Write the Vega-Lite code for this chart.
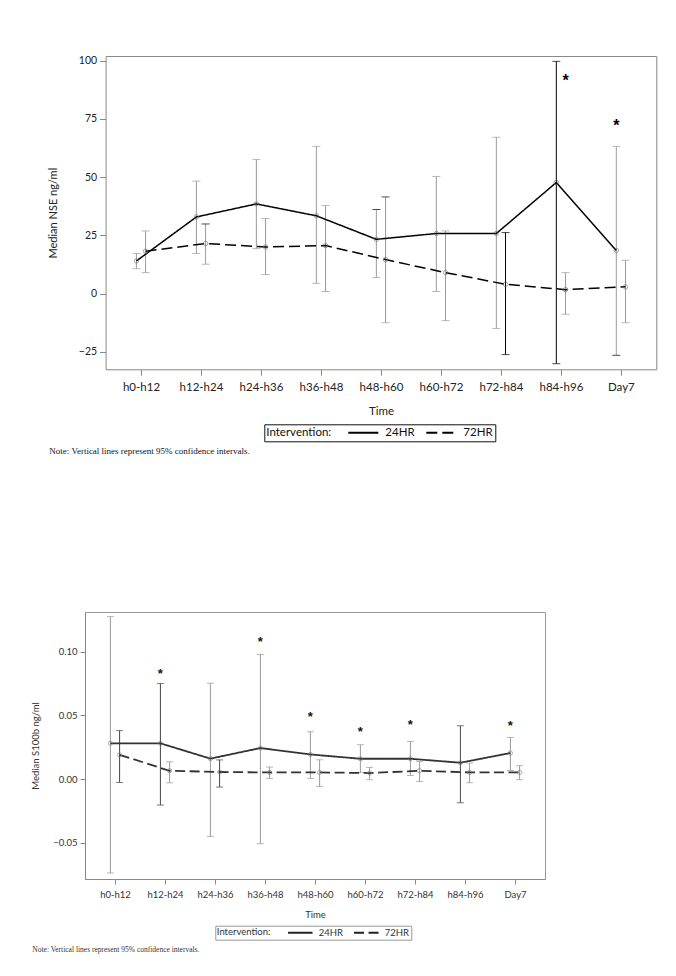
{
"$schema": "https://vega.github.io/schema/vega-lite/v6.json",
"background": "white",
"padding": {"left": 30, "top": 55, "right": 5, "bottom": 5},
"config": {
  "view": {"stroke": null},
  "font": "Lato",
  "axis": {"grid": false, "domainColor": "#888", "tickColor": "#888", "labelColor": "#222", "titleColor": "#222", "titleFontWeight": "normal"},
  "legend": {"symbolType": "stroke", "symbolStrokeColor": "black", "titleFontWeight": "normal", "titleColor": "#111", "labelColor": "#111"}
},
"datasets": {
  "nse": [
    {"time":"h0-h12","group":"24HR","median":14.0,"lo":10.7,"hi":17.2},
    {"time":"h12-h24","group":"24HR","median":32.9,"lo":17.2,"hi":48.3},
    {"time":"h24-h36","group":"24HR","median":38.5,"lo":19.3,"hi":57.6},
    {"time":"h36-h48","group":"24HR","median":33.4,"lo":4.4,"hi":63.2},
    {"time":"h48-h60","group":"24HR","median":23.3,"lo":6.9,"hi":36.1},
    {"time":"h60-h72","group":"24HR","median":25.8,"lo":0.9,"hi":50.3},
    {"time":"h72-h84","group":"24HR","median":25.8,"lo":-15.0,"hi":67.1},
    {"time":"h84-h96","group":"24HR","median":47.7,"lo":-30.1,"hi":99.7},
    {"time":"Day7","group":"24HR","median":18.5,"lo":-26.5,"hi":63.2},
    {"time":"h0-h12","group":"72HR","median":18.2,"lo":9.0,"hi":26.9},
    {"time":"h12-h24","group":"72HR","median":21.5,"lo":12.6,"hi":29.9},
    {"time":"h24-h36","group":"72HR","median":20.0,"lo":8.2,"hi":32.2},
    {"time":"h36-h48","group":"72HR","median":20.6,"lo":0.9,"hi":37.8},
    {"time":"h48-h60","group":"72HR","median":14.6,"lo":-12.5,"hi":41.5},
    {"time":"h60-h72","group":"72HR","median":9.0,"lo":-11.6,"hi":26.9},
    {"time":"h72-h84","group":"72HR","median":4.0,"lo":-26.2,"hi":26.2},
    {"time":"h84-h96","group":"72HR","median":1.7,"lo":-8.9,"hi":9.0},
    {"time":"Day7","group":"72HR","median":2.9,"lo":-12.5,"hi":14.3}
  ],
  "nse_star": [
    {"time":"h84-h96","group":"72HR","y":92.9},
    {"time":"Day7","group":"24HR","y":73.8}
  ],
  "s100": [
    {"time":"h0-h12","group":"24HR","median":0.028,"lo":-0.0737,"hi":0.1274},
    {"time":"h12-h24","group":"24HR","median":0.028,"lo":-0.0204,"hi":0.0749},
    {"time":"h24-h36","group":"24HR","median":0.016,"lo":-0.045,"hi":0.0752},
    {"time":"h36-h48","group":"24HR","median":0.0243,"lo":-0.0507,"hi":0.0977},
    {"time":"h48-h60","group":"24HR","median":0.0193,"lo":0.0005,"hi":0.0371},
    {"time":"h60-h72","group":"24HR","median":0.0159,"lo":0.0052,"hi":0.0269},
    {"time":"h72-h84","group":"24HR","median":0.0159,"lo":0.0028,"hi":0.0295},
    {"time":"h84-h96","group":"24HR","median":0.0128,"lo":-0.0186,"hi":0.0418},
    {"time":"Day7","group":"24HR","median":0.0204,"lo":0.0067,"hi":0.0326},
    {"time":"h0-h12","group":"72HR","median":0.019,"lo":-0.0027,"hi":0.038},
    {"time":"h12-h24","group":"72HR","median":0.0065,"lo":-0.003,"hi":0.0135},
    {"time":"h24-h36","group":"72HR","median":0.0055,"lo":-0.0063,"hi":0.015},
    {"time":"h36-h48","group":"72HR","median":0.0052,"lo":0.0005,"hi":0.0094},
    {"time":"h48-h60","group":"72HR","median":0.0052,"lo":-0.0058,"hi":0.0151},
    {"time":"h60-h72","group":"72HR","median":0.0047,"lo":-0.0005,"hi":0.0091},
    {"time":"h72-h84","group":"72HR","median":0.0065,"lo":-0.0019,"hi":0.0138},
    {"time":"h84-h96","group":"72HR","median":0.0052,"lo":-0.0029,"hi":0.0125},
    {"time":"Day7","group":"72HR","median":0.0052,"lo":-0.0005,"hi":0.0104}
  ],
  "s100_star": [
    {"time":"h12-h24","group":"24HR","y":0.0851},
    {"time":"h36-h48","group":"24HR","y":0.110},
    {"time":"h48-h60","group":"24HR","y":0.0512},
    {"time":"h60-h72","group":"24HR","y":0.0394},
    {"time":"h72-h84","group":"24HR","y":0.0451},
    {"time":"Day7","group":"24HR","y":0.0438}
  ]
},
"columns": 1,
"spacing": 155,
"resolve": {"scale": {"strokeDash": "independent"}, "legend": {"strokeDash": "independent"}},
"concat": [
 {
  "width": 571.3,
  "height": 313.3,
  "title": {"text": "Note: Vertical lines represent 95% confidence intervals.", "orient": "bottom", "anchor": "start", "frame": "group", "dx": -35.7, "offset": 5, "font": "Liberation Serif", "fontSize": 9, "fontWeight": "normal", "color": "#111"},
  "resolve": {"axis": {"x": "independent", "y": "independent"}},
  "layer": [
   {
    "data": {"name": "nse"},
    "mark": {"type": "rule", "strokeWidth": 1},
    "encoding": {
      "x": {"field": "time", "type": "ordinal", "scale": {"type": "point", "domain": ["h0-h12","h12-h24","h24-h36","h36-h48","h48-h60","h60-h72","h72-h84","h84-h96","Day7"], "padding": 0.59, "range": [20.6, 571.3]}, "axis": null},
      "xOffset": {"field": "group", "type": "nominal", "scale": {"type": "point", "domain": ["24HR","72HR"], "range": [-4.6, 4.6], "padding": 0}},
      "y": {"field": "lo", "type": "quantitative", "scale": {"domain": [-32.5, 102], "nice": false, "zero": false}, "axis": null},
      "y2": {"field": "hi"},
      "color": {"condition": {"test": "(datum.time=='h84-h96' && datum.group=='24HR') || (datum.time=='h72-h84' && datum.group=='72HR')", "value": "#000"}, "value": "#9a9a9a"}
    }
   },
   {
    "data": {"name": "nse"},
    "mark": {"type": "tick", "size": 8, "thickness": 1},
    "encoding": {
      "x": {"field": "time", "type": "ordinal", "scale": {"type": "point", "domain": ["h0-h12","h12-h24","h24-h36","h36-h48","h48-h60","h60-h72","h72-h84","h84-h96","Day7"], "padding": 0.59, "range": [20.6, 571.3]}, "axis": null},
      "xOffset": {"field": "group", "type": "nominal", "scale": {"type": "point", "domain": ["24HR","72HR"], "range": [-4.6, 4.6], "padding": 0}},
      "y": {"field": "lo", "type": "quantitative", "scale": {"domain": [-32.5, 102], "nice": false, "zero": false}, "axis": null},
      "color": {"condition": {"test": "(datum.time=='h84-h96' && datum.group=='24HR') || (datum.time=='h72-h84' && datum.group=='72HR') || (datum.time=='Day7' && datum.group=='24HR')", "value": "#000"}, "value": "#9a9a9a"}
    }
   },
   {
    "data": {"name": "nse"},
    "mark": {"type": "tick", "size": 8, "thickness": 1},
    "encoding": {
      "x": {"field": "time", "type": "ordinal", "scale": {"type": "point", "domain": ["h0-h12","h12-h24","h24-h36","h36-h48","h48-h60","h60-h72","h72-h84","h84-h96","Day7"], "padding": 0.59, "range": [20.6, 571.3]}, "axis": null},
      "xOffset": {"field": "group", "type": "nominal", "scale": {"type": "point", "domain": ["24HR","72HR"], "range": [-4.6, 4.6], "padding": 0}},
      "y": {"field": "hi", "type": "quantitative", "scale": {"domain": [-32.5, 102], "nice": false, "zero": false}, "axis": null},
      "color": {"condition": {"test": "(datum.time=='h84-h96' && datum.group=='24HR') || (datum.time=='h72-h84' && datum.group=='72HR') || (datum.time=='h48-h60') || (datum.time=='h12-h24' && datum.group=='72HR')", "value": "#000"}, "value": "#9a9a9a"}
    }
   },
   {
    "data": {"name": "nse"},
    "mark": {"type": "line", "strokeWidth": 1.5, "color": "black"},
    "encoding": {
      "x": {"field": "time", "type": "ordinal", "scale": {"type": "point", "domain": ["h0-h12","h12-h24","h24-h36","h36-h48","h48-h60","h60-h72","h72-h84","h84-h96","Day7"], "padding": 0.59, "range": [20.6, 571.3]},
            "axis": {"orient": "bottom", "title": "Time", "labelAngle": 0, "labelFontSize": 11.5, "titleFontSize": 11.5, "tickSize": 6, "labelPadding": 6, "titlePadding": 13}},
      "xOffset": {"field": "group", "type": "nominal", "scale": {"type": "point", "domain": ["24HR","72HR"], "range": [-4.6, 4.6], "padding": 0}},
      "y": {"field": "median", "type": "quantitative", "scale": {"domain": [-32.5, 102], "nice": false, "zero": false},
            "axis": {"orient": "left", "offset": -20.6, "title": "Median NSE ng/ml", "values": [-25, 0, 25, 50, 75, 100], "labelFontSize": 10.5, "titleFontSize": 11, "tickSize": 6, "labelPadding": 3, "titlePadding": 20}},
      "strokeDash": {"field": "group", "type": "nominal", "scale": {"domain": ["24HR","72HR"], "range": [[1,0],[11,5]]},
            "legend": {"orient": "none", "legendX": 179.3, "legendY": 368.3, "direction": "horizontal", "title": "Intervention:", "titleOrient": "left", "titleFontSize": 11.5, "labelFontSize": 11.5, "titlePadding": 16, "strokeColor": "#111", "padding": 2, "symbolSize": 900, "symbolStrokeWidth": 2, "clipHeight": 13, "columnPadding": 10, "labelOffset": 6}},
      "order": {"value": null}
    }
   },
   {
    "data": {"name": "nse"},
    "mark": {"type": "point", "shape": "circle", "filled": false, "size": 20, "strokeWidth": 0.8, "color": "#666"},
    "encoding": {
      "x": {"field": "time", "type": "ordinal", "scale": {"type": "point", "domain": ["h0-h12","h12-h24","h24-h36","h36-h48","h48-h60","h60-h72","h72-h84","h84-h96","Day7"], "padding": 0.59, "range": [20.6, 571.3]},
            "axis": {"orient": "top", "labels": false, "ticks": false, "title": null}},
      "xOffset": {"field": "group", "type": "nominal", "scale": {"type": "point", "domain": ["24HR","72HR"], "range": [-4.6, 4.6], "padding": 0}},
      "y": {"field": "median", "type": "quantitative", "scale": {"domain": [-32.5, 102], "nice": false, "zero": false},
            "axis": {"orient": "right", "labels": false, "ticks": false, "title": null}}
    }
   },
   {
    "data": {"name": "nse_star"},
    "mark": {"type": "text", "text": "*", "font": "Liberation Sans", "fontSize": 16, "fontWeight": "bold", "baseline": "middle", "dy": 4, "color": "#000"},
    "encoding": {
      "x": {"field": "time", "type": "ordinal", "scale": {"type": "point", "domain": ["h0-h12","h12-h24","h24-h36","h36-h48","h48-h60","h60-h72","h72-h84","h84-h96","Day7"], "padding": 0.59, "range": [20.6, 571.3]}, "axis": null},
      "xOffset": {"field": "group", "type": "nominal", "scale": {"type": "point", "domain": ["24HR","72HR"], "range": [-4.6, 4.6], "padding": 0}},
      "y": {"field": "y", "type": "quantitative", "scale": {"domain": [-32.5, 102], "nice": false, "zero": false}, "axis": null}
    }
   }
  ]
 },
 {
  "width": 460,
  "height": 267,
  "view": {"stroke": "#999"},
  "title": {"text": "Note: Vertical lines represent 95% confidence intervals.", "orient": "bottom", "anchor": "start", "frame": "group", "dx": -52.7, "offset": 6, "font": "Liberation Serif", "fontSize": 7.5, "fontWeight": "normal", "color": "#333"},
  "resolve": {"axis": {"x": "independent", "y": "independent"}},
  "layer": [
   {
    "data": {"name": "s100"},
    "mark": {"type": "rule", "strokeWidth": 1},
    "encoding": {
      "x": {"field": "time", "type": "ordinal", "scale": {"type": "point", "domain": ["h0-h12","h12-h24","h24-h36","h36-h48","h48-h60","h60-h72","h72-h84","h84-h96","Day7"], "padding": 0.6}, "axis": null},
      "xOffset": {"field": "group", "type": "nominal", "scale": {"type": "point", "domain": ["24HR","72HR"], "range": [-3.6, 3.6], "padding": 0}},
      "y": {"field": "lo", "type": "quantitative", "scale": {"domain": [-0.0784, 0.131], "nice": false, "zero": false}, "axis": null},
      "y2": {"field": "hi"},
      "color": {"condition": {"test": "(datum.time=='h0-h12' && datum.group=='72HR') || (datum.time=='h12-h24' && datum.group=='24HR') || (datum.time=='h24-h36' && datum.group=='72HR') || (datum.time=='h84-h96' && datum.group=='24HR')", "value": "#444"}, "value": "#999"}
    }
   },
   {
    "data": {"name": "s100"},
    "mark": {"type": "tick", "size": 7, "thickness": 1},
    "encoding": {
      "x": {"field": "time", "type": "ordinal", "scale": {"type": "point", "domain": ["h0-h12","h12-h24","h24-h36","h36-h48","h48-h60","h60-h72","h72-h84","h84-h96","Day7"], "padding": 0.6}, "axis": null},
      "xOffset": {"field": "group", "type": "nominal", "scale": {"type": "point", "domain": ["24HR","72HR"], "range": [-3.6, 3.6], "padding": 0}},
      "y": {"field": "lo", "type": "quantitative", "scale": {"domain": [-0.0784, 0.131], "nice": false, "zero": false}, "axis": null},
      "color": {"condition": {"test": "(datum.time=='h0-h12' && datum.group=='72HR') || (datum.time=='h12-h24' && datum.group=='24HR') || (datum.time=='h24-h36' && datum.group=='72HR') || (datum.time=='h84-h96' && datum.group=='24HR')", "value": "#444"}, "value": "#999"}
    }
   },
   {
    "data": {"name": "s100"},
    "mark": {"type": "tick", "size": 7, "thickness": 1},
    "encoding": {
      "x": {"field": "time", "type": "ordinal", "scale": {"type": "point", "domain": ["h0-h12","h12-h24","h24-h36","h36-h48","h48-h60","h60-h72","h72-h84","h84-h96","Day7"], "padding": 0.6}, "axis": null},
      "xOffset": {"field": "group", "type": "nominal", "scale": {"type": "point", "domain": ["24HR","72HR"], "range": [-3.6, 3.6], "padding": 0}},
      "y": {"field": "hi", "type": "quantitative", "scale": {"domain": [-0.0784, 0.131], "nice": false, "zero": false}, "axis": null},
      "color": {"condition": {"test": "(datum.time=='h0-h12' && datum.group=='72HR') || (datum.time=='h12-h24' && datum.group=='24HR') || (datum.time=='h24-h36' && datum.group=='72HR') || (datum.time=='h84-h96' && datum.group=='24HR')", "value": "#444"}, "value": "#999"}
    }
   },
   {
    "data": {"name": "s100"},
    "mark": {"type": "line", "strokeWidth": 1.8, "color": "#333"},
    "encoding": {
      "x": {"field": "time", "type": "ordinal", "scale": {"type": "point", "domain": ["h0-h12","h12-h24","h24-h36","h36-h48","h48-h60","h60-h72","h72-h84","h84-h96","Day7"], "padding": 0.6},
            "axis": {"orient": "bottom", "title": "Time", "labelAngle": 0, "labelFontSize": 9.5, "titleFontSize": 9.5, "tickSize": 5, "labelPadding": 5, "titlePadding": 11, "labelColor": "#333", "titleColor": "#333"}},
      "xOffset": {"field": "group", "type": "nominal", "scale": {"type": "point", "domain": ["24HR","72HR"], "range": [-3.6, 3.6], "padding": 0}},
      "y": {"field": "median", "type": "quantitative", "scale": {"domain": [-0.0784, 0.131], "nice": false, "zero": false},
            "axis": {"orient": "left", "title": "Median S100b ng/ml", "values": [-0.05, 0, 0.05, 0.1], "format": ".2f", "labelFontSize": 9.5, "titleFontSize": 9.5, "tickSize": 5, "labelPadding": 3, "titlePadding": 12, "labelColor": "#333", "titleColor": "#333"}},
      "strokeDash": {"field": "group", "type": "nominal", "scale": {"domain": ["24HR","72HR"], "range": [[1,0],[10,4.5]]},
            "legend": {"orient": "none", "legendX": 130.3, "legendY": 313.7, "direction": "horizontal", "title": "Intervention:", "titleOrient": "left", "titleFontSize": 9.5, "labelFontSize": 9.5, "titlePadding": 16, "strokeColor": "#999", "padding": 1.5, "symbolSize": 600, "symbolStrokeWidth": 2, "symbolStrokeColor": "#222", "clipHeight": 10.5, "columnPadding": 9, "labelOffset": 5, "titleColor": "#333", "labelColor": "#333"}},
      "order": {"value": null}
    }
   },
   {
    "data": {"name": "s100"},
    "mark": {"type": "point", "shape": "circle", "filled": false, "size": 18, "strokeWidth": 0.8, "color": "#777"},
    "encoding": {
      "x": {"field": "time", "type": "ordinal", "scale": {"type": "point", "domain": ["h0-h12","h12-h24","h24-h36","h36-h48","h48-h60","h60-h72","h72-h84","h84-h96","Day7"], "padding": 0.6}, "axis": null},
      "xOffset": {"field": "group", "type": "nominal", "scale": {"type": "point", "domain": ["24HR","72HR"], "range": [-3.6, 3.6], "padding": 0}},
      "y": {"field": "median", "type": "quantitative", "scale": {"domain": [-0.0784, 0.131], "nice": false, "zero": false}, "axis": null}
    }
   },
   {
    "data": {"name": "s100_star"},
    "mark": {"type": "text", "text": "*", "font": "Liberation Sans", "fontSize": 13, "fontWeight": "bold", "baseline": "middle", "dy": 3, "color": "#111"},
    "encoding": {
      "x": {"field": "time", "type": "ordinal", "scale": {"type": "point", "domain": ["h0-h12","h12-h24","h24-h36","h36-h48","h48-h60","h60-h72","h72-h84","h84-h96","Day7"], "padding": 0.6}, "axis": null},
      "xOffset": {"field": "group", "type": "nominal", "scale": {"type": "point", "domain": ["24HR","72HR"], "range": [-3.6, 3.6], "padding": 0}},
      "y": {"field": "y", "type": "quantitative", "scale": {"domain": [-0.0784, 0.131], "nice": false, "zero": false}, "axis": null}
    }
   }
  ]
 }
]
}
